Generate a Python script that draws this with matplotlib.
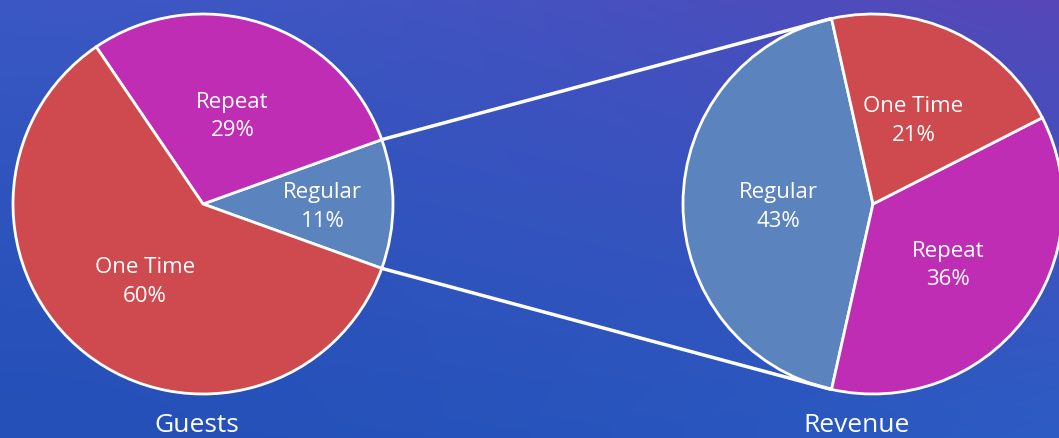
import numpy as np
import matplotlib
matplotlib.use("Agg")
import matplotlib.pyplot as plt

plt.rcParams['font.family'] = ['Open Sans', 'DejaVu Sans']

# data
guest_labels = ["Regular", "Repeat", "One Time"]
guest_share = [11, 29, 60]
revenue_labels = ["Regular", "Repeat", "One Time"]
revenue_share = [43, 36, 21]
slice_colors = {"Regular": "#5b84bf", "Repeat": "#bf2db4", "One Time": "#cf4a4e"}

W, H = 1059, 438
fig = plt.figure(figsize=(W / 100, H / 100), dpi=100)
ax = fig.add_axes([0, 0, 1, 1])

# background gradient (bottom-left blue -> top-right purple)
tl = np.array([60, 88, 196]) / 255
tr = np.array([88, 70, 184]) / 255
bl = np.array([36, 80, 184]) / 255
br = np.array([44, 92, 196]) / 255
yy, xx = np.mgrid[0:1:200j, 0:1:400j]
xs = xx ** 1.6
ys = yy ** 0.8
grad = (tl * ((1 - xs) * (1 - ys))[..., None] + tr * (xs * (1 - ys))[..., None]
        + bl * ((1 - xs) * ys)[..., None] + br * (xs * ys)[..., None])
ax.imshow(grad, extent=[0, W, 0, H], origin="upper", zorder=0, aspect="auto")

R = 190
left_c = (203, H - 204)
right_c = (873, H - 204)


def draw_pie(center, labels, values, start, label_r):
    wedges, _ = ax.pie(values, colors=[slice_colors[l] for l in labels],
                       startangle=start, counterclock=True, radius=R, center=center,
                       wedgeprops=dict(edgecolor="white", linewidth=2), frame=True)
    for w, lab, v, lr in zip(wedges, labels, values, label_r):
        mid = np.deg2rad((w.theta1 + w.theta2) / 2)
        x = center[0] + lr * R * np.cos(mid)
        y = center[1] + lr * R * np.sin(mid) - 3
        ax.text(x, y, f"{lab}\n{v}%", ha="center", va="center", color="white",
                fontsize=16, linespacing=1.45, zorder=5)
    return wedges


lw = draw_pie(left_c, guest_labels, guest_share, -guest_share[0] * 3.6 / 2, [0.63, 0.5, 0.5])
rw = draw_pie(right_c, revenue_labels, revenue_share, 180 - revenue_share[0] * 3.6 / 2, [0.5, 0.5, 0.5])
ax.set_xlim(0, W)
ax.set_ylim(0, H)
ax.set_aspect("equal")
ax.axis("off")


def edge_pt(center, ang):
    a = np.deg2rad(ang)
    return center[0] + R * np.cos(a), center[1] + R * np.sin(a)


# connector lines from Regular slice of guests to Regular slice of revenue
for a_l, a_r in [(lw[0].theta2, rw[0].theta1), (lw[0].theta1, rw[0].theta2)]:
    p1 = edge_pt(left_c, a_l)
    p2 = edge_pt(right_c, a_r)
    ax.plot([p1[0], p2[0]], [p1[1], p2[1]], color="white", lw=2.5, zorder=6,
            solid_capstyle="butt")

ax.text(left_c[0] - 6, H - 426, "Guests", ha="center", va="center", color="white", fontsize=19)
ax.text(right_c[0] - 16, H - 426, "Revenue", ha="center", va="center", color="white", fontsize=19)

fig.savefig("out.png", dpi=100)
